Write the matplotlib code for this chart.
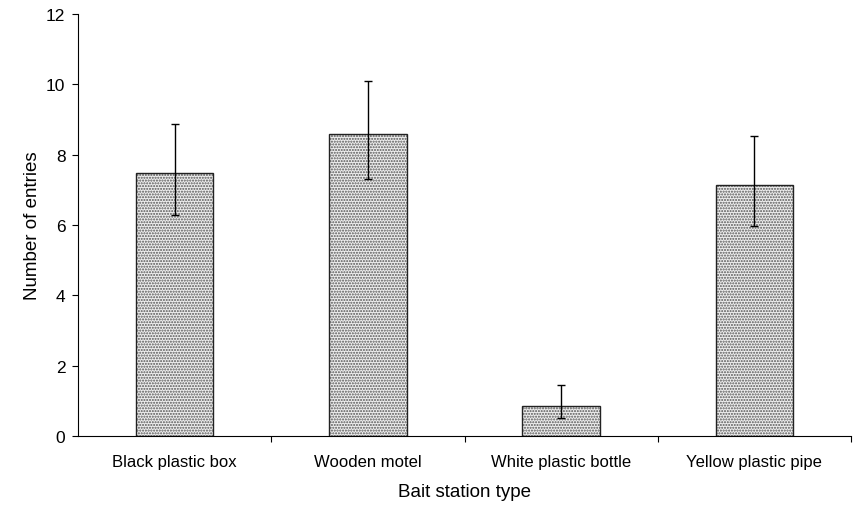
import numpy as np
import matplotlib
matplotlib.use("Agg")
import matplotlib.pyplot as plt

plt.rcParams["font.family"] = ["Liberation Sans", "DejaVu Sans"]

# === DATA ================================================================== #
categories = ["Black plastic box", "Wooden motel", "White plastic bottle", "Yellow plastic pipe"]
means = [7.48, 8.59, 0.85, 7.14]
err_upper = [1.39, 1.50, 0.60, 1.39]
err_lower = [1.20, 1.28, 0.34, 1.17]

# === PLOT ================================================================== #
fig = plt.figure(figsize=(8.59, 5.06), dpi=100)
ax = fig.add_axes([0.0908, 0.1364, 0.8999, 0.834])

x = np.arange(len(categories))
width = 0.40

# stippled fill, then black outline on top
ax.bar(x, means, width, color="#eeeeee", edgecolor="#555555", hatch="......", linewidth=0)
ax.bar(x, means, width, color="none", edgecolor="#222222", linewidth=1.0)
ax.errorbar(x, means, yerr=[err_lower, err_upper], fmt="none",
            ecolor="black", elinewidth=1.0, capsize=3, capthick=1.0)

ax.set_xlim(-0.5, len(categories) - 0.5)
ax.set_ylim(0, 12)
ax.set_yticks(range(0, 13, 2))

ax.set_xticks(x)
ax.set_xticklabels(categories)
ax.tick_params(axis="x", which="major", length=0, pad=13, labelsize=12)
ax.set_xticks(np.arange(0.5, len(categories), 1.0), minor=True)
ax.tick_params(axis="x", which="minor", length=4, direction="out", width=0.8)
ax.tick_params(axis="y", length=4, width=0.8, labelsize=12.5, pad=5)

ax.spines["top"].set_visible(False)
ax.spines["right"].set_visible(False)
ax.spines["left"].set_linewidth(0.8)
ax.spines["bottom"].set_linewidth(0.8)

ax.set_xlabel("Bait station type", fontsize=13.5, labelpad=10)
ax.set_ylabel("Number of entries", fontsize=13.5, labelpad=4)

fig.savefig("out.png", dpi=100)
